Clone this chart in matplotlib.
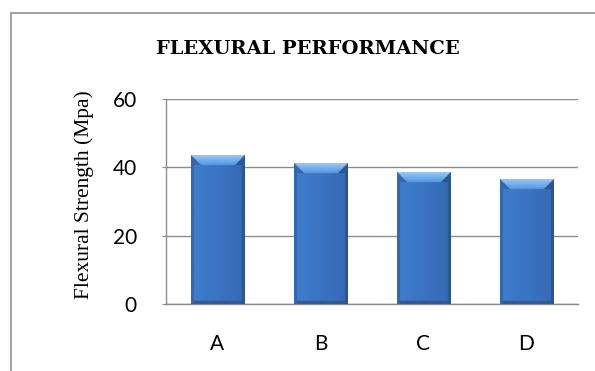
import numpy as np
import matplotlib.pyplot as plt
from matplotlib.patches import Rectangle
from matplotlib.colors import to_rgb

categories = ['A', 'B', 'C', 'D']
strength = [43.5, 41.2, 38.5, 36.6]
y_ticks = [0, 20, 40, 60]

BAR_W = 0.52
PX_PER_UNIT = 3.42   # screen pixels per MPa
BAR_PX = 54          # bar width in pixels


def bevel_image(h, ny=400, nx=108):
    # shaded bar face: light top bevel, thin darker sides, dark bottom edge
    u = np.linspace(0, BAR_PX, nx)[None, :]
    y = np.linspace(h, 0, ny)[:, None] * PX_PER_UNIT
    dt = h * PX_PER_UNIT - y
    edge = np.minimum(u, BAR_PX - u)
    U, DT, E, Y = np.broadcast_arrays(u, dt, edge, y)

    body_l = np.array(to_rgb('#3f7ecf'))
    body_r = np.array(to_rgb('#3569b4'))
    side_l = np.array(to_rgb('#3367ae'))
    side_r = np.array(to_rgb('#2a5694'))
    top_hi = np.array(to_rgb('#94caf7'))
    top_lo = np.array(to_rgb('#5296e0'))
    bottom = np.array(to_rgb('#2d5c9c'))

    t = (U / BAR_PX)[..., None]
    img = body_l * (1 - t) + body_r * t
    top_band = 10.0
    side_w = 3.0
    is_top = (DT < top_band) & (E > DT)
    is_side = ((E < side_w) | ((DT < top_band) & (E <= DT))) & ~is_top
    is_bottom = (Y < 3.0) & ~is_side
    s = np.clip(DT / top_band, 0, 1)[..., None]
    top = top_hi * (1 - s) + top_lo * s
    img = np.where(is_top[..., None], top, img)
    left = is_side & (U < BAR_PX / 2)
    right = is_side & (U >= BAR_PX / 2)
    img[left] = side_l
    img[right] = side_r
    img[is_bottom] = bottom
    return img


fig = plt.figure(figsize=(5.95, 3.71), dpi=100)
ax = fig.add_axes([0.279, 0.181, 0.692, 0.552])

x = np.arange(len(categories))
bars = ax.bar(x, strength, width=BAR_W, color='#3a75c3', edgecolor='none', zorder=2)
for b, v in zip(bars, strength):
    x0 = b.get_x()
    im = ax.imshow(bevel_image(v), extent=(x0, x0 + BAR_W, 0, v),
                   aspect='auto', interpolation='bilinear', zorder=3)
    im.set_clip_path(b)

ax.set_xlim(-0.5, len(categories) - 0.5)
ax.set_ylim(0, 60)
ax.set_yticks(y_ticks)
ax.set_xticks(x)
ax.set_xticklabels(categories)
ax.yaxis.grid(True, color='#8c8c8c', linewidth=1.0, zorder=0)
ax.set_axisbelow(True)
for s in ['top', 'right']:
    ax.spines[s].set_visible(False)
for s in ['left', 'bottom']:
    ax.spines[s].set_color('#8c8c8c')
    ax.spines[s].set_linewidth(1.0)
ax.tick_params(axis='both', labelsize=15, labelcolor='black')
ax.tick_params(axis='y', length=3, color='#8c8c8c', pad=18)
ax.tick_params(axis='x', length=0, pad=22)
for lbl in ax.get_xticklabels() + ax.get_yticklabels():
    lbl.set_fontfamily('Lato')

fig.text(84 / 595, 1 - 195 / 371, 'Flexural Strength (Mpa)', rotation=90,
         ha='center', va='center', fontfamily='Liberation Serif', fontsize=15.5)
fig.text(308 / 595, 1 - 49 / 371, 'FLEXURAL PERFORMANCE', ha='center', va='center',
         fontfamily='DejaVu Serif', fontweight='bold', fontsize=14)

# chart border
fig.patches.append(Rectangle((11 / 595, -0.05), 1.0, 1 - 13 / 371 + 0.05,
                             transform=fig.transFigure, fill=False,
                             edgecolor='#9a9a9a', linewidth=1.3))

fig.savefig('out.png', dpi=100)
